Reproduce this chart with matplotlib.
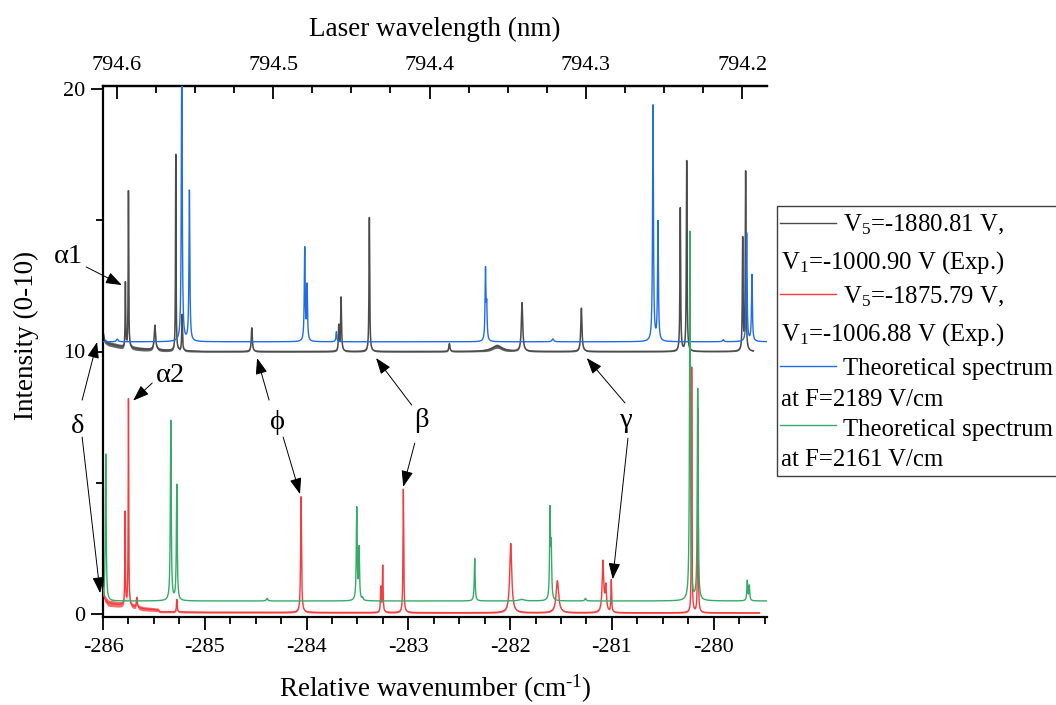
import numpy as np
import matplotlib
matplotlib.use("Agg")
import matplotlib.pyplot as plt
from matplotlib.lines import Line2D
from matplotlib.patches import Rectangle

plt.rcParams["font.family"] = ["Liberation Serif", "DejaVu Serif"]
plt.rcParams["mathtext.fontset"] = "custom"
plt.rcParams["mathtext.rm"] = "Liberation Serif"
plt.rcParams["mathtext.it"] = "Liberation Serif:italic"
plt.rcParams["axes.unicode_minus"] = False

# ---------------------------------------------------------------------------
# Spectra: line positions (cm^-1), apex intensities and line half-widths
# ---------------------------------------------------------------------------
# Experiment 1: V5=-1880.81 V, V1=-1000.90 V (offset by 10)
EXP1_RANGE = (-286.0, -279.61)
EXP1_BASE_NU = [-286.0, -285.985, -285.95, -285.8, -285.6, -285.4, -285.0, -279.6]
EXP1_BASE = [10.75, 10.4, 10.3, 10.15, 10.08, 10.04, 10.0, 10.0]
EXP1_NOISE_NU = [-286.0, -285.6, -285.3, -285.0, -282.3, -282.13, -281.95, -279.6]
EXP1_NOISE = [0.09, 0.07, 0.05, 0.03, 0.03, 0.08, 0.03, 0.02]
EXP1_LINE_NU = [-285.78, -285.75, -285.49, -285.285, -285.223, -284.538, -283.684,
                -283.661, -283.383, -282.597, -282.13, -281.883, -281.30, -280.328,
                -280.265, -279.715, -279.686]
EXP1_LINE_TOP = [12.6, 16.1, 11.0, 17.5, 11.4, 10.9, 10.95, 12.05, 15.1, 10.3, 10.2,
                 11.85, 11.65, 15.45, 17.25, 14.25, 16.8]
EXP1_LINE_HW = [0.003, 0.003, 0.008, 0.003, 0.004, 0.006, 0.004, 0.005, 0.004, 0.006,
                0.06, 0.008, 0.007, 0.004, 0.004, 0.004, 0.004]

# Experiment 2: V5=-1875.79 V, V1=-1006.88 V
EXP2_RANGE = (-286.0, -279.55)
EXP2_BASE_NU = [-286.0, -285.985, -285.95, -285.8, -285.6, -285.46, -285.44, -285.0,
                -282.0, -279.55]
EXP2_BASE = [1.0, 0.6, 0.42, 0.33, 0.2, 0.16, 0.09, 0.07, 0.05, 0.05]
EXP2_NOISE_NU = [-286.0, -285.8, -285.46, -285.44, -285.0, -279.55]
EXP2_NOISE = [0.13, 0.1, 0.07, 0.04, 0.035, 0.025]
EXP2_LINE_NU = [-285.783, -285.75, -285.668, -285.275, -284.054, -283.271, -283.252,
                -283.049, -281.994, -281.536, -281.088, -281.06, -281.006, -280.216,
                -280.155]
EXP2_LINE_TOP = [3.86, 8.18, 0.62, 0.56, 4.47, 1.0, 1.83, 4.75, 2.69, 1.27, 1.98, 1.0,
                 1.27, 9.4, 7.84]
EXP2_LINE_HW = [0.003, 0.003, 0.005, 0.004, 0.005, 0.004, 0.004, 0.004, 0.012, 0.015,
                0.009, 0.008, 0.004, 0.003, 0.003]

# Theory, F = 2189 V/cm (offset by 10)
TH1_RANGE = (-286.0, -279.476)
TH1_BASE = 10.37
TH1_LINE_NU = [-285.86, -285.226, -285.151, -284.018, -283.995, -283.707, -282.242,
               -282.230, -281.58, -280.596, -280.547, -279.906, -279.676, -279.624]
TH1_LINE_TOP = [10.47, 22.0, 16.1, 13.9, 12.45, 10.75, 13.05, 11.6, 10.48, 19.35, 14.9,
                10.45, 14.5, 12.9]
TH1_LINE_HW = [0.01, 0.005, 0.005, 0.005, 0.005, 0.005, 0.005, 0.005, 0.01, 0.005,
               0.005, 0.008, 0.005, 0.005]

# Theory, F = 2161 V/cm
TH2_RANGE = (-286.0, -279.476)
TH2_BASE = 0.5
TH2_LINE_NU = [-285.973, -285.334, -285.275, -284.388, -283.507, -283.484, -283.45,
               -282.348, -281.888, -281.608, -281.596, -281.26, -280.233, -280.157,
               -279.67, -279.65]
TH2_LINE_TOP = [6.1, 7.35, 4.9, 0.6, 4.0, 2.45, 0.6, 2.12, 0.56, 3.85, 2.4, 0.6, 14.55,
                8.54, 1.26, 1.07]
TH2_LINE_HW = [0.005, 0.005, 0.005, 0.008, 0.005, 0.005, 0.006, 0.005, 0.03, 0.005,
               0.005, 0.008, 0.005, 0.005, 0.005, 0.005]

# Laser wavelength scale (nm) against relative wavenumber (cm^-1)
LAMBDA_REF = 794.6
NU_AT_LAMBDA_REF = -285.864
NU_PER_NM = 15.363

COLORS = {"exp1": "#4c4c4c", "exp2": "#f53c3c", "th1": "#1f6ee6", "th2": "#34ac68"}
LABELS = ["V$_5$=-1880.81 V,\nV$_1$=-1000.90 V (Exp.)",
          "V$_5$=-1875.79 V,\nV$_1$=-1006.88 V (Exp.)",
          "Theoretical spectrum\nat F=2189 V/cm",
          "Theoretical spectrum\nat F=2161 V/cm"]


def build_trace(nu_range, base_nu, base_val, centers, tops, hws, n=26000):
    nu = np.linspace(nu_range[0], nu_range[1], n)
    if np.isscalar(base_val):
        base = np.full_like(nu, base_val)
    else:
        base = np.interp(nu, base_nu, base_val)
    y = base.copy()
    for c, top, hw in zip(centers, tops, hws):
        amp = top - np.interp(c, nu, base)
        y += amp * hw ** 2 / ((nu - c) ** 2 + hw ** 2)
    return nu, y


fig = plt.figure(figsize=(10.56, 7.05), dpi=100)
ax = fig.add_axes([103 / 1056, 1 - 617 / 705, 664 / 1056, 531 / 705])

nu1, y1 = build_trace(EXP1_RANGE, EXP1_BASE_NU, EXP1_BASE, EXP1_LINE_NU, EXP1_LINE_TOP, EXP1_LINE_HW)
nu2, y2 = build_trace(EXP2_RANGE, EXP2_BASE_NU, EXP2_BASE, EXP2_LINE_NU, EXP2_LINE_TOP, EXP2_LINE_HW)
nu3, y3 = build_trace(TH1_RANGE, None, TH1_BASE, TH1_LINE_NU, TH1_LINE_TOP, TH1_LINE_HW)
nu4, y4 = build_trace(TH2_RANGE, None, TH2_BASE, TH2_LINE_NU, TH2_LINE_TOP, TH2_LINE_HW)

# measurement noise envelopes of the experimental traces
n1 = np.interp(nu1, EXP1_NOISE_NU, EXP1_NOISE)
n2 = np.interp(nu2, EXP2_NOISE_NU, EXP2_NOISE)
ax.fill_between(nu1, y1 - n1, y1 + n1, color=COLORS["exp1"], lw=0, alpha=0.85, zorder=2)
ax.plot(nu1, y1, color=COLORS["exp1"], lw=1.1, zorder=2)
ax.fill_between(nu2, y2 - n2, y2 + n2, color=COLORS["exp2"], lw=0, alpha=0.75, zorder=3)
ax.plot(nu2, y2, color=COLORS["exp2"], lw=1.0, zorder=3)
ax.plot(nu3, y3, color=COLORS["th1"], lw=1.0, zorder=4)
ax.plot(nu4, y4, color=COLORS["th2"], lw=1.0, zorder=5)

ax.set_xlim(-286.0, -279.476)
ax.set_ylim(-0.11, 20.11)
ax.set_xticks(np.arange(-286, -279.9, 1))
ax.set_xticks(np.arange(-286, -279.4, 0.25), minor=True)
ax.set_yticks([0, 10, 20])
ax.set_yticks([5, 15], minor=True)
ax.tick_params(axis="both", which="major", labelsize=16, length=9, width=1.3, direction="out")
ax.tick_params(axis="both", which="minor", length=5, width=1.3, direction="out")
ax.tick_params(axis="x", which="major", pad=6)
ax.tick_params(axis="y", which="major", pad=4)
for side in ("left", "bottom", "top"):
    ax.spines[side].set_linewidth(1.6)
ax.spines["right"].set_visible(False)

ax.set_xlabel("Relative wavenumber (cm$^{\\text{-1}}$)", fontsize=19.5)
ax.xaxis.set_label_coords(0.5, -0.105)
ax.set_ylabel("Intensity (0-10)", fontsize=19.5)
ax.yaxis.set_label_coords(-0.097, 0.53)


def nu_to_lambda(nu):
    return LAMBDA_REF - (np.asarray(nu) - NU_AT_LAMBDA_REF) / NU_PER_NM


def lambda_to_nu(lam):
    return NU_AT_LAMBDA_REF + (LAMBDA_REF - np.asarray(lam)) * NU_PER_NM


top = ax.secondary_xaxis("top", functions=(nu_to_lambda, lambda_to_nu))
top.set_xticks([794.6, 794.5, 794.4, 794.3, 794.2])
top.set_xticks(np.arange(794.175, 794.626, 0.025), minor=True)
top.tick_params(which="major", direction="in", length=9, width=1.3, labelsize=16, pad=8)
top.tick_params(which="minor", direction="in", length=5, width=1.3)
top.spines["top"].set_linewidth(1.6)
top.set_xlabel("Laser wavelength (nm)", fontsize=19.5, labelpad=14)

# ---------------------------------------------------------------------------
# Line assignments
# ---------------------------------------------------------------------------
ARROW = dict(arrowstyle="-|>,head_length=0.55,head_width=0.2", color="black", lw=0.7,
             shrinkA=0, shrinkB=0, mutation_scale=18)


def arrow(tail, head):
    ax.annotate("", xy=head, xytext=tail, arrowprops=ARROW, annotation_clip=False, zorder=6)


greek = dict(fontsize=20.5, ha="center", va="center", zorder=6)
ax.text(-286.342, 13.6, "α1", **greek)
ax.text(-285.34, 9.1, "α2", **greek)
ax.text(-286.254, 7.16, "δ", **greek)
ax.text(-284.289, 7.31, "ϕ", **greek)
ax.text(-282.868, 7.39, "β", **greek)
ax.text(-280.855, 7.39, "γ", **greek)

arrow((-286.165, 13.22), (EXP1_LINE_NU[0] - 0.035, EXP1_LINE_TOP[0] - 0.07))
arrow((-285.516, 8.8), (EXP2_LINE_NU[1] + 0.046, EXP2_LINE_TOP[1] - 0.05))
arrow((-286.205, 8.15), (-286.058, 10.36))
arrow((-286.205, 6.74), (-286.028, 0.8))
arrow((-284.368, 8.15), (EXP1_LINE_NU[5] + 0.052, 9.75))
arrow((-284.23, 6.74), (EXP2_LINE_NU[4] - 0.01, EXP2_LINE_TOP[4] + 0.1))
arrow((-282.967, 7.96), (EXP1_LINE_NU[8] + 0.066, 9.75))
arrow((-282.937, 6.51), (EXP2_LINE_NU[7] - 0.001, EXP2_LINE_TOP[7] + 0.1))
arrow((-280.871, 8.04), (EXP1_LINE_NU[12] + 0.053, 9.75))
arrow((-280.842, 6.70), (EXP2_LINE_NU[12] + 0.014, EXP2_LINE_TOP[12] + 0.06))

# ---------------------------------------------------------------------------
# Legend box (two-line entries, handle beside the first line)
# ---------------------------------------------------------------------------
W, H = 1056.0, 705.0
fig.patches.append(Rectangle((777 / W, 1 - 476 / H), 300 / W, 270 / H, transform=fig.transFigure,
                             facecolor="white", edgecolor="#404040", lw=1.0, zorder=1))
entry_baselines = [(231, 269), (303, 341), (375, 406), (436, 466)]
handle_y = [223, 294, 366, 425]
for (b1, b2), hy, key, label in zip(entry_baselines, handle_y, ["exp1", "exp2", "th1", "th2"], LABELS):
    first, second = label.split("\n")
    fig.lines.append(Line2D([780 / W, 836 / W], [1 - hy / H, 1 - hy / H], transform=fig.transFigure,
                            color=COLORS[key], lw=1.0))
    fig.text(843 / W, 1 - b1 / H, first, fontsize=17.8, va="baseline", ha="left")
    fig.text(781 / W, 1 - b2 / H, second, fontsize=17.8, va="baseline", ha="left")

fig.savefig("out.png", dpi=100)
